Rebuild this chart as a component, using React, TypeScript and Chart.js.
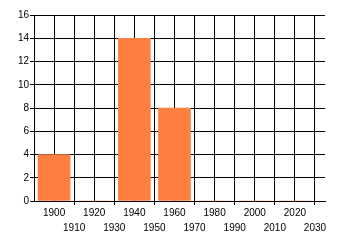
import React, { useEffect, useRef } from "react";
import { Chart, registerables } from "chart.js";

Chart.register(...registerables);

const years = [1900, 1920, 1940, 1960, 1980, 2000, 2020];
const counts = [4, 0, 14, 8, 0, 0, 0];
const xMin = 1890;
const xMax = 2035;
const yMax = 16;

export default function App() {
  const ref = useRef<HTMLCanvasElement | null>(null);
  useEffect(() => {
    document.body.style.margin = "0";
    const font = { family: "'Liberation Sans', Arial, sans-serif", size: 10 };
    const chart = new Chart(ref.current as HTMLCanvasElement, {
      type: "bar",
      data: {
        datasets: [
          {
            data: years.map((y, i) => ({ x: y, y: counts[i] })),
            backgroundColor: "#ff7f40",
            borderWidth: 0,
            barThickness: 32,
          },
        ],
      },
      options: {
        animation: false,
        responsive: false,
        events: [],
        layout: { padding: { top: 15, right: 15, left: 0, bottom: 0 } },
        plugins: { legend: { display: false }, tooltip: { enabled: false } },
        scales: {
          x: {
            type: "linear",
            min: xMin,
            max: xMax,
            offset: false,
            afterFit: (s: any) => {
              s.height = 44;
            },
            border: { color: "#000", width: 1 },
            grid: {
              offset: false,
              color: "#000",
              lineWidth: 1,
              tickLength: 4,
              tickColor: (c: any) =>
                c.tick && ((c.tick.value - 1900) / 10) % 2 !== 0 && c.tick.value !== xMin
                  ? "#000"
                  : "rgba(0,0,0,0)",
            },
            ticks: {
              stepSize: 10,
              includeBounds: false,
              autoSkip: false,
              maxRotation: 0,
              minRotation: 0,
              padding: 1,
              color: "#000",
              font: { ...font, lineHeight: 1.5 },
              callback: (v: any) => {
                const n = Number(v);
                if (n === xMin) return "";
                return ((n - 1900) / 10) % 2 === 0 ? String(n) : ["", String(n)];
              },
            },
          },
          y: {
            min: 0,
            max: yMax,
            afterFit: (s: any) => {
              s.width = 34;
            },
            border: { color: "#000", width: 1 },
            grid: { color: "#000", lineWidth: 1, tickLength: 4 },
            ticks: { stepSize: 2, padding: 1, color: "#000", font },
          },
        },
      },
    });
    return () => chart.destroy();
  }, []);
  return (
    <div style={{ width: 340, height: 245 }}>
      <canvas ref={ref} width={340} height={245} />
    </div>
  );
}
